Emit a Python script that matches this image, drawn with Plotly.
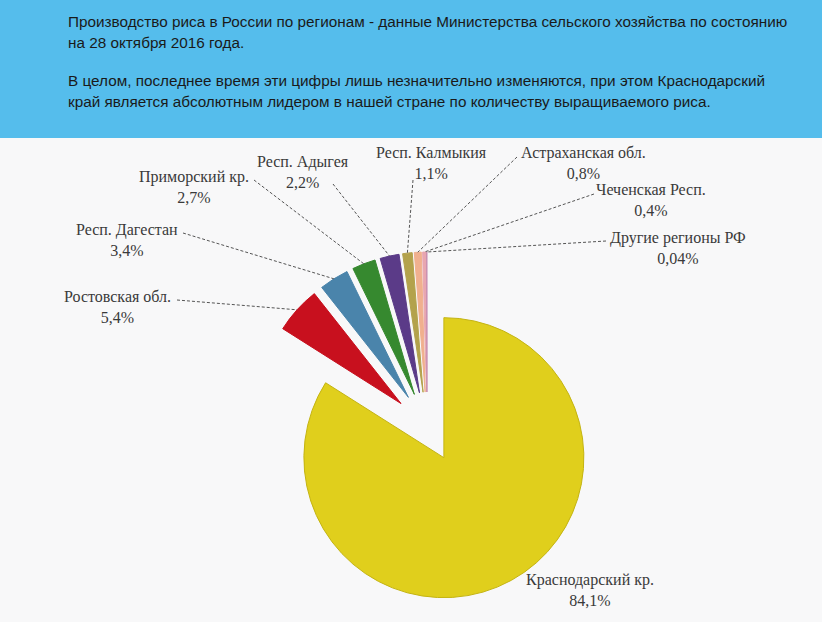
import math
import plotly.graph_objects as go

# ---- data ----
regions = ["Краснодарский кр.", "Ростовская обл.", "Респ. Дагестан", "Приморский кр.",
           "Респ. Адыгея", "Респ. Калмыкия", "Астраханская обл.", "Чеченская Респ.",
           "Другие регионы РФ"]
shares = [84.1, 5.4, 3.4, 2.7, 2.2, 1.1, 0.8, 0.4, 0.04]
share_labels = ["84,1%", "5,4%", "3,4%", "2,7%", "2,2%", "1,1%", "0,8%", "0,4%", "0,04%"]
colors = ["#e0cf1c", "#c8101e", "#4a84ab", "#36892f", "#5b3b88",
          "#b3a24c", "#f0b08e", "#e8a6b0", "#c98fb0"]

header_lines = [
    "Производство риса в России по регионам - данные Министерства сельского хозяйства по состоянию",
    "на 28 октября 2016 года.",
    "",
    "В целом, последнее время эти цифры лишь незначительно изменяются, при этом Краснодарский",
    "край является абсолютным лидером в нашей стране по количеству выращиваемого риса.",
]

# ---- layout parameters ----
W, H = 822, 622
PULL = 0.25
CX, CY = 427, 427          # pie centre in px (from top-left)
R_DOM = 175                # domain half-size in px
R = R_DOM / (1 + PULL)     # actual slice radius in px

# label positions (px, centre of label block) and leader-line start points (px)
label_pos = [(590, 590), (117, 307), (127, 240), (194, 187), (303, 172),
             (431, 163), (583, 163), (651, 200), (678, 248)]
line_start = [None, (177, 300), (183, 233), (254, 180), (333, 184),
              (413, 180), (517, 157), (594, 194), (606, 241)]

fig = go.Figure()
fig.add_trace(go.Pie(
    values=shares, labels=regions, sort=False, direction="clockwise", rotation=0,
    pull=[PULL] * len(shares), textinfo="none", hoverinfo="label+percent",
    marker=dict(colors=colors,
                line=dict(color=["#c4b412"] + colors[1:], width=1)),
    domain=dict(x=[(CX - R_DOM) / W, (CX + R_DOM) / W],
                y=[1 - (CY + R_DOM) / H, 1 - (CY - R_DOM) / H]),
    showlegend=False,
))

def px2paper(x, y):
    return x / W, 1 - y / H

shapes = []
# header band
shapes.append(dict(type="rect", xref="paper", yref="paper", x0=0, x1=1,
                   y0=1 - 138 / H, y1=1, fillcolor="#55bdec", line=dict(width=0),
                   layer="below"))

annotations = []
total = sum(shares)
cum = 0.0
for i, v in enumerate(shares):
    mid = (cum + v / 2) / total * 2 * math.pi
    cum += v
    dx, dy = math.sin(mid), -math.cos(mid)
    ex, ey = CX + (R + PULL * R) * dx, CY + (R + PULL * R) * dy
    if line_start[i] is not None:
        sx, sy = line_start[i]
        x0, y0 = px2paper(sx, sy)
        x1, y1 = px2paper(ex, ey)
        shapes.append(dict(type="line", xref="paper", yref="paper",
                           x0=x0, y0=y0, x1=x1, y1=y1,
                           line=dict(color="#555555", width=1, dash="3px,2px")))
    lx, ly = px2paper(*label_pos[i])
    annotations.append(dict(xref="paper", yref="paper", x=lx, y=ly,
                            text=f"{regions[i]}<br>{share_labels[i]}",
                            showarrow=False, xanchor="center", yanchor="middle",
                            align="center",
                            font=dict(family="Liberation Serif", size=16, color="#3a3a3a")))

ys = [22, 43, 64, 80, 101]
for t, y in zip(header_lines, ys):
    if not t:
        continue
    hx, hy = px2paper(66, y)
    annotations.append(dict(xref="paper", yref="paper", x=hx, y=hy, text=t,
                            showarrow=False, xanchor="left", yanchor="middle",
                            font=dict(family="Liberation Sans, Arial",
                                      size=15.3, color="#1a1a1a")))

fig.update_layout(
    width=W, height=H, margin=dict(l=0, r=0, t=0, b=0),
    paper_bgcolor="#f8f8f9", plot_bgcolor="#f8f8f9",
    shapes=shapes, annotations=annotations,
)

fig.write_html("out.html", config={"displayModeBar": False},
               post_script="document.body.style.margin='0';")
